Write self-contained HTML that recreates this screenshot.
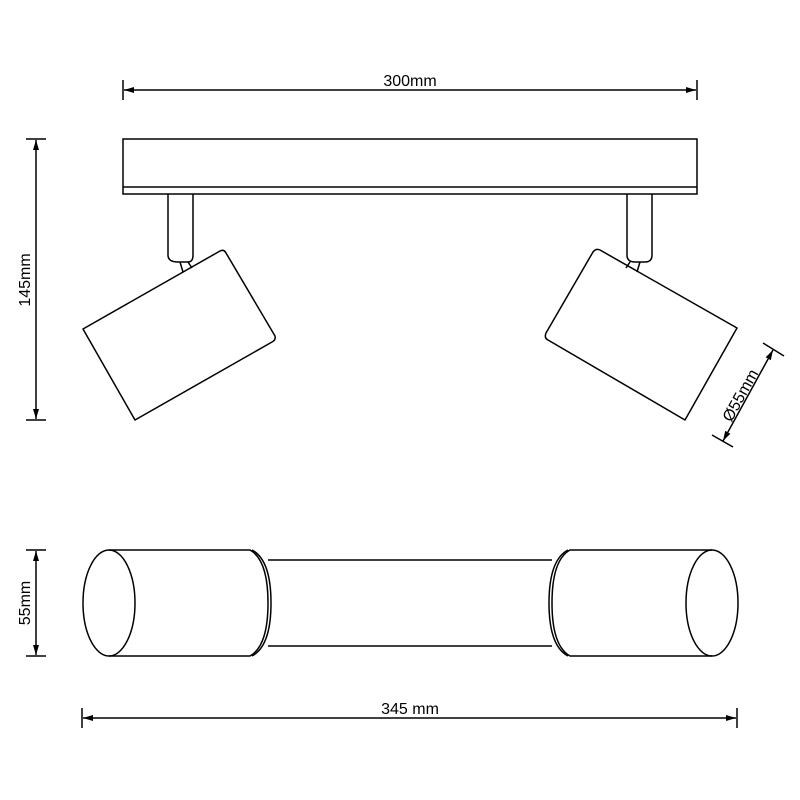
<!DOCTYPE html>
<html><head><style>body{margin:0;background:#fff}svg{display:block}</style></head><body>
<svg width="800" height="800" viewBox="0 0 800 800" xmlns="http://www.w3.org/2000/svg" font-family="Liberation Sans, sans-serif">
<defs><marker id="a" viewBox="0 0 10 6" refX="10" refY="3" markerWidth="10" markerHeight="6" orient="auto-start-reverse" markerUnits="userSpaceOnUse"><path d="M0,0L10,3L0,6z" fill="#000"/></marker></defs>
<g stroke="#000" fill="none" stroke-width="1.5">
<line x1="123" y1="80" x2="123" y2="100"/><line x1="697" y1="80" x2="697" y2="100"/>
<line x1="124" y1="90" x2="696" y2="90" marker-start="url(#a)" marker-end="url(#a)"/>
<line x1="26" y1="139" x2="46" y2="139"/><line x1="26" y1="420" x2="46" y2="420"/>
<line x1="36" y1="140" x2="36" y2="419" marker-start="url(#a)" marker-end="url(#a)"/>
<rect x="123" y="139" width="574" height="55"/>
<line x1="123" y1="187" x2="697" y2="187"/>
<path d="M168,194 V255 Q168,262 178,262 H188 Q193,262 193,255 V194"/>
<path d="M627,194 V255 Q627,262 635,262 H645 Q652,262 652,255 V194"/>
<path d="M180,262 L183,272 M188,262 L192,268"/>
<path d="M630,262 L626,268 M640,262 L637,272"/>
<path d="M83,329 L220,251 Q224,249 226,253 L275,336 Q276,340 272,342 L135,420 Z" stroke-linejoin="round"/>
<path d="M737,328 L600,250 Q596,248 593,252 L546,333 Q544,338 548,340 L685,420 Z" stroke-linejoin="round"/>
<line x1="763" y1="343" x2="784" y2="356"/><line x1="712" y1="435" x2="733" y2="447"/>
<line x1="773" y1="350" x2="723" y2="441" marker-start="url(#a)" marker-end="url(#a)"/>
<path d="M109,550 H250 Q268,560 268,603 Q268,646 250,656 H109"/>
<path d="M252,550 Q271,560 271,603 Q271,646 252,656"/>
<ellipse cx="109" cy="603" rx="26" ry="53"/>
<line x1="268" y1="560" x2="552" y2="560"/><line x1="268" y1="646" x2="552" y2="646"/>
<path d="M712,550 H570 Q552,560 552,603 Q552,646 570,656 H712"/>
<path d="M568,550 Q549,560 549,603 Q549,646 568,656"/>
<ellipse cx="712" cy="603" rx="26" ry="53"/>
<line x1="26" y1="550" x2="46" y2="550"/><line x1="26" y1="656" x2="46" y2="656"/>
<line x1="36" y1="551" x2="36" y2="655" marker-start="url(#a)" marker-end="url(#a)"/>
<line x1="82" y1="708" x2="82" y2="728"/><line x1="737" y1="708" x2="737" y2="728"/>
<line x1="83" y1="718" x2="736" y2="718" marker-start="url(#a)" marker-end="url(#a)"/>
</g>
<g font-size="16" fill="#000" text-anchor="middle">
<text x="410" y="86">300mm</text>
<text x="410" y="714">345 mm</text>
<text transform="translate(30,280) rotate(-90)">145mm</text>
<text transform="translate(30,603) rotate(-90)">55mm</text>
<text transform="translate(745,398) rotate(-61)">Ø55mm</text>
</g>
</svg>
</body></html>
